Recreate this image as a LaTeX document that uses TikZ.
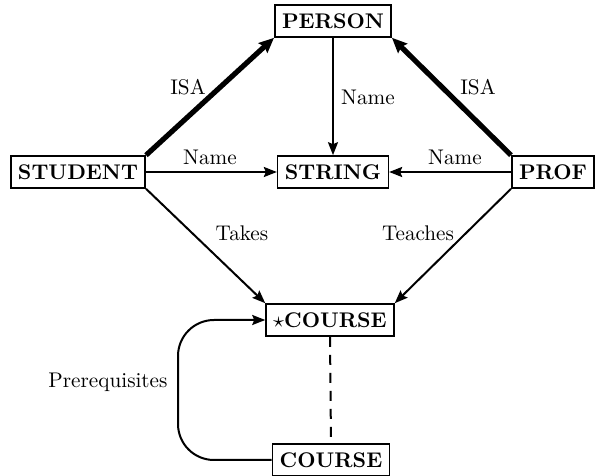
\documentclass[tikz,border=0pt]{standalone}
\usetikzlibrary{arrows.meta}
\begin{document}
\begin{tikzpicture}[x=0.5pt,y=-0.5pt,
  ent/.style={draw,line width=0.8pt,font=\fontsize{10.6}{12}\selectfont\bfseries,inner xsep=3.6pt,minimum height=16pt,inner ysep=0pt},
  rel/.style={line width=1pt,-{Stealth[length=6.5pt,width=5pt,inset=1pt]}},
  isa/.style={line width=2.6pt,-{Stealth[length=7.5pt,width=6.5pt,inset=1pt]}},
  lbl/.style={font=\fontsize{10.6}{12}\selectfont}]
\useasboundingbox (0,0) rectangle (601,476);
\node[ent] (person) at (333,21) {PERSON};
\node[ent] (student) at (78,172) {STUDENT};
\node[ent] (string) at (333,172) {STRING};
\node[ent] (prof) at (553,172) {PROF};
\node[ent] (scourse) at (330,320) {$\star$COURSE};
\node[ent] (course) at (331,460) {COURSE};
\draw[isa] (student.north east) -- (person.south west);
\draw[isa] (prof.north west) -- (person.south east);
\draw[rel] (person.south) -- (string.north);
\draw[rel] (student.east) -- (string.west);
\draw[rel] (prof.west) -- (string.east);
\draw[rel] (student.south east) -- (scourse.north west);
\draw[rel] (prof.south west) -- (scourse.north east);
\draw[line width=1pt,dash pattern=on 5pt off 4pt] (scourse.south) -- (course.north);
\draw[rel,rounded corners=18pt] (course.west) -- (178,|-course.west) -- (178,320) -- (scourse.west);
\node[lbl] (l1) at (188,87) {ISA};
\node[lbl] (l2) at (478,87) {ISA};
\node[lbl] (l3) at (368,97) {Name};
\node[lbl] (l4) at (210,157) {Name};
\node[lbl] (l5) at (455,157) {Name};
\node[lbl] (l6) at (242,233) {Takes};
\node[lbl] (l7) at (418,233) {Teaches};
\node[lbl] (l8) at (108,382) {Prerequisites};
\end{tikzpicture}
\end{document}
